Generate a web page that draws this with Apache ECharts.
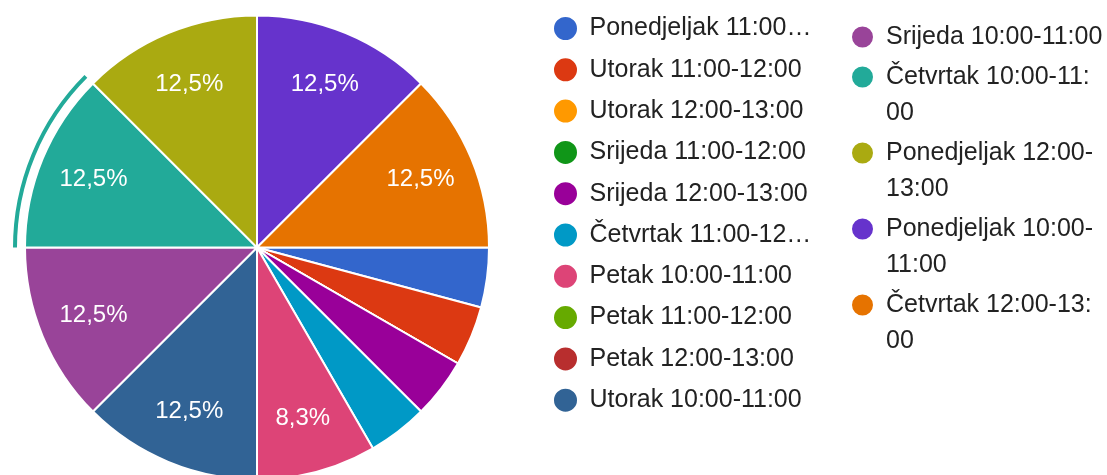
<!DOCTYPE html>
<html>
<head>
<meta charset="utf-8">
<script src="https://cdn.jsdelivr.net/npm/echarts@6/dist/echarts.min.js"></script>
<style>
  html, body { margin: 0; padding: 0; background: #fff; }
  #chart { width: 1107px; height: 475px; }
</style>
</head>
<body>
<div id="chart"></div>
<script>
// termini (legend order = data order)
const slotNames = [
  'Ponedjeljak 11:00-12:00',
  'Utorak 11:00-12:00',
  'Utorak 12:00-13:00',
  'Srijeda 11:00-12:00',
  'Srijeda 12:00-13:00',
  'Četvrtak 11:00-12:00',
  'Petak 10:00-11:00',
  'Petak 11:00-12:00',
  'Petak 12:00-13:00',
  'Utorak 10:00-11:00',
  'Srijeda 10:00-11:00',
  'Četvrtak 10:00-11:00',
  'Ponedjeljak 12:00-13:00',
  'Ponedjeljak 10:00-11:00',
  'Četvrtak 12:00-13:00'
];
// broj odgovora
const responses = [1, 1, 0, 0, 1, 1, 2, 0, 0, 3, 3, 3, 3, 3, 3];
const sliceColors = [
  '#3366cc', '#dc3912', '#ff9900', '#109618', '#990099',
  '#0099c6', '#dd4477', '#66aa00', '#b82e2e', '#316395',
  '#994499', '#22aa99', '#aaaa11', '#6633cc', '#e67300'
];
const selectedSlot = 'Četvrtak 10:00-11:00';

const FONT = "'Liberation Sans', Arial, sans-serif";
const chart = echarts.init(document.getElementById('chart'));

const pieData = slotNames.map((name, i) => ({
  name, value: responses[i], itemStyle: { color: sliceColors[i] }
}));
// tanki luk oko odabranog isjecka
const ringData = slotNames.map((name, i) => ({
  name, value: responses[i],
  itemStyle: { color: name === selectedSlot ? sliceColors[i] : 'rgba(0,0,0,0)' }
}));
const labelData = slotNames.map((name, i) => ({
  name, value: responses[i], itemStyle: { color: 'rgba(0,0,0,0)' }
}));

function pctLabel(p) {
  if (p.percent < 5) return '';
  return (Math.round(p.percent * 10) / 10).toString().replace('.', ',') + '%';
}

// desni stupac: prelamanje poslije 18 znakova, prazan red gore da ikona stoji uz prvi red
function wrapName(name) {
  if (name.length <= 19) return name;
  return ' \n' + name.slice(0, 18) + '\n' + name.slice(18);
}

const center = [257, 247.5];
const R = 232;

const option = {
  animation: false,
  backgroundColor: '#fff',
  legend: [
    {
      data: slotNames.slice(0, 10),
      orient: 'vertical',
      left: 552, top: 13.5, padding: 0,
      itemWidth: 38, itemHeight: 25, itemGap: 11.3,
      icon: 'circle',
      selectedMode: false,
      textStyle: {
        fontFamily: FONT, fontSize: 25, color: '#222', lineHeight: 30,
        width: 224, overflow: 'truncate', ellipsis: '…'
      }
    },
    {
      data: slotNames.slice(10),
      orient: 'vertical',
      left: 850, top: 19, padding: 0,
      itemWidth: 37, itemHeight: 23, itemGap: -32,
      icon: 'circle',
      selectedMode: false,
      formatter: wrapName,
      textStyle: { fontFamily: FONT, fontSize: 25, color: '#222', lineHeight: 36 }
    }
  ],
  series: [
    {
      name: 'Termini',
      type: 'pie',
      center, radius: [0, R],
      startAngle: 0, clockwise: true,
      data: pieData,
      label: { show: false }, labelLine: { show: false },
      itemStyle: { borderColor: '#fff', borderWidth: 2 },
      emphasis: { disabled: true }
    },
    {
      type: 'pie', silent: true,
      center, radius: [240, 244],
      startAngle: 0, clockwise: true,
      data: ringData,
      label: { show: false }, labelLine: { show: false },
      itemStyle: { borderWidth: 0 },
      emphasis: { disabled: true }
    },
    {
      type: 'pie', silent: true,
      center, radius: [R * 0.5, R],
      startAngle: 0, clockwise: true,
      data: labelData,
      avoidLabelOverlap: false,
      label: {
        show: true, position: 'inside', formatter: pctLabel,
        color: '#fff', fontFamily: FONT, fontSize: 24
      },
      labelLine: { show: false },
      itemStyle: { borderWidth: 0 },
      emphasis: { disabled: true }
    }
  ]
};
chart.setOption(option);
</script>
</body>
</html>
